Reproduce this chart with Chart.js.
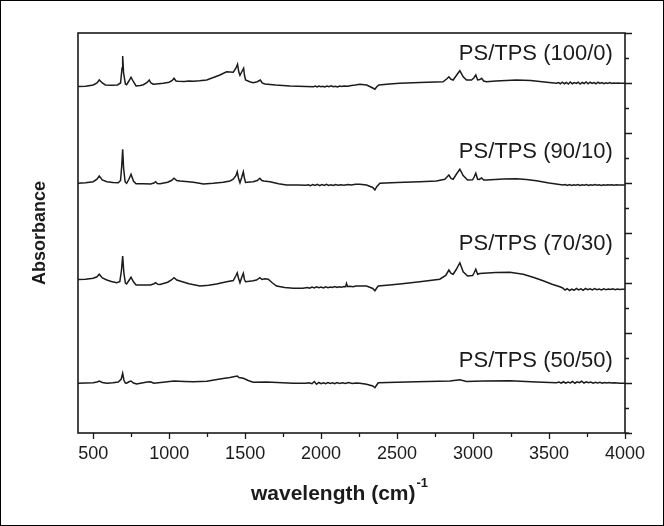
<!DOCTYPE html>
<html>
<head>
<meta charset="utf-8">
<script src="https://cdn.jsdelivr.net/npm/chart.js@4.4.1/dist/chart.umd.min.js"></script>
<style>
  html, body { margin: 0; padding: 0; background: #fff; }
  #wrap { width: 664px; height: 526px; position: relative; }
</style>
</head>
<body>
<div id="wrap"><canvas id="ftir"></canvas></div>
<script>
// FTIR spectra, stacked with vertical offsets (arbitrary absorbance units)
const seriesNames = ['PS/TPS (100/0)', 'PS/TPS (90/10)', 'PS/TPS (70/30)', 'PS/TPS (50/50)'];
const xTicks = [500, 1000, 1500, 2000, 2500, 3000, 3500, 4000];

const wn100 = [400, 450, 500, 525, 540, 560, 580, 620, 660, 680, 690, 694, 700, 712, 720, 735, 749, 765, 782, 810,
  830, 855, 869, 880, 895, 930, 961, 1000, 1020, 1032, 1045, 1060, 1100, 1130, 1159, 1200, 1247, 1300, 1334, 1378,
  1422, 1440, 1450, 1458, 1466, 1478, 1490, 1496, 1503, 1530, 1553, 1580, 1600, 1612, 1630, 1700, 1795, 1900, 1950, 1962,
  1974, 1986, 1998, 2010, 2024, 2038, 2052, 2066, 2080, 2094, 2108, 2122, 2136, 2150, 2175, 2200, 2225, 2255, 2300, 2340,
  2354, 2366, 2380, 2450, 2518, 2650, 2750, 2803, 2830, 2841, 2855, 2869, 2890, 2913, 2935, 2957, 2990, 3005, 3018, 3030,
  3045, 3056, 3070, 3089, 3150, 3286, 3380, 3439, 3500, 3549, 3562, 3575, 3588, 3601, 3614, 3627, 3640, 3653, 3666, 3679,
  3692, 3705, 3718, 3731, 3744, 3757, 3770, 3783, 3796, 3809, 3822, 3835, 3848, 3861, 3874, 3887, 3900, 3913, 3926, 3940,
  3955, 3970, 3985, 4000];
const ab100 = [13.86, 13.87, 13.92, 14.0, 14.12, 14.0, 13.92, 13.91, 13.92, 14.0, 14.6, 15.08, 14.4, 13.96, 13.93, 14.08, 14.23, 14.05, 13.88, 13.9,
  13.93, 14.02, 14.12, 14.0, 13.95, 13.97, 13.99, 14.03, 14.1, 14.19, 14.08, 14.07, 14.06, 14.08, 14.07, 14.09, 14.12, 14.24, 14.32, 14.45,
  14.43, 14.6, 14.75, 14.45, 14.31, 14.45, 14.59, 14.3, 14.12, 14.05, 14.01, 14.05, 14.12, 14.0, 13.96, 13.92, 13.88, 13.86, 13.85, 13.88,
  13.84, 13.88, 13.85, 13.87, 13.84, 13.88, 13.85, 13.89, 13.85, 13.87, 13.84, 13.88, 13.86, 13.88, 13.87, 13.9, 13.92, 13.95, 13.92, 13.8,
  13.75, 13.85, 13.92, 13.96, 13.99, 14.02, 14.04, 14.05, 14.18, 14.25, 14.15, 14.12, 14.3, 14.49, 14.25, 14.12, 14.12, 14.2, 14.32, 14.12,
  14.14, 14.19, 14.08, 14.05, 14.08, 14.12, 14.1, 14.06, 14.02, 13.99, 14.02, 13.97, 14.03, 13.97, 14.02, 13.96, 14.04, 13.97, 14.02, 13.98,
  14.03, 13.96, 14.02, 13.98, 14.04, 13.97, 14.03, 13.98, 14.02, 13.97, 14.03, 13.98, 14.02, 13.97, 14.01, 13.98, 14.02, 13.98, 14.0, 13.99,
  14.0, 13.99, 13.99, 13.99];

const wn90 = [400, 450, 500, 525, 540, 560, 590, 630, 665, 680, 688, 694, 700, 710, 720, 735, 749, 765, 782, 830,
  878, 900, 911, 922, 940, 990, 1015, 1032, 1050, 1071, 1110, 1159, 1190, 1225, 1290, 1356, 1400, 1422, 1440, 1448,
  1456, 1466, 1476, 1488, 1495, 1503, 1530, 1553, 1580, 1597, 1610, 1623, 1663, 1720, 1773, 1850, 1900, 1915, 1930, 1945,
  1960, 1975, 1990, 2005, 2020, 2035, 2050, 2065, 2080, 2095, 2110, 2130, 2150, 2175, 2200, 2225, 2255, 2299, 2340, 2354,
  2366, 2387, 2500, 2650, 2759, 2814, 2830, 2841, 2855, 2869, 2890, 2913, 2935, 2964, 2997, 3008, 3018, 3030, 3040, 3056,
  3070, 3089, 3200, 3286, 3350, 3417, 3500, 3592, 3606, 3620, 3634, 3648, 3662, 3676, 3690, 3704, 3718, 3732, 3746, 3760,
  3774, 3788, 3802, 3816, 3830, 3844, 3858, 3872, 3886, 3900, 3914, 3928, 3942, 3956, 3970, 4000];
const ab90 = [9.99, 10.01, 10.05, 10.15, 10.28, 10.12, 10.05, 10.02, 10.01, 10.1, 10.7, 11.35, 10.6, 10.05, 9.99, 10.15, 10.35, 10.08, 9.97, 9.97,
  9.96, 10.0, 10.05, 9.98, 9.97, 10.03, 10.1, 10.19, 10.1, 10.08, 10.06, 10.03, 10.0, 9.96, 9.99, 10.03, 10.08, 10.15, 10.3, 10.45,
  10.2, 10.01, 10.2, 10.45, 10.2, 10.02, 10.04, 10.05, 10.1, 10.19, 10.1, 10.08, 10.05, 9.97, 9.92, 9.92, 9.91, 9.93, 9.89, 9.94,
  9.9, 9.95, 9.89, 9.94, 9.9, 9.95, 9.9, 9.93, 9.9, 9.94, 9.91, 9.93, 9.91, 9.94, 9.92, 9.95, 9.95, 9.92, 9.82, 9.72,
  9.85, 9.99, 10.02, 10.05, 10.08, 10.15, 10.25, 10.32, 10.18, 10.15, 10.35, 10.55, 10.3, 10.12, 10.13, 10.25, 10.39, 10.15, 10.14, 10.2,
  10.12, 10.12, 10.16, 10.17, 10.14, 10.09, 10.0, 9.92, 9.94, 9.9, 9.94, 9.9, 9.93, 9.91, 9.94, 9.9, 9.93, 9.91, 9.94, 9.9,
  9.93, 9.91, 9.94, 9.91, 9.93, 9.9, 9.93, 9.91, 9.93, 9.92, 9.93, 9.91, 9.93, 9.92, 9.92, 9.92];

const wn70 = [400, 450, 500, 525, 540, 560, 590, 620, 654, 675, 686, 694, 702, 712, 720, 735, 749, 765, 782, 830,
  878, 900, 911, 925, 940, 990, 1015, 1032, 1050, 1071, 1130, 1203, 1260, 1312, 1378, 1422, 1440, 1448, 1456, 1466,
  1476, 1488, 1495, 1503, 1530, 1553, 1575, 1597, 1610, 1630, 1652, 1680, 1707, 1760, 1817, 1880, 1910, 1925, 1940, 1955,
  1970, 1985, 2000, 2015, 2030, 2045, 2060, 2075, 2090, 2105, 2120, 2135, 2150, 2162, 2167, 2174, 2190, 2210, 2230, 2255,
  2299, 2340, 2354, 2366, 2376, 2450, 2518, 2650, 2781, 2820, 2841, 2855, 2869, 2890, 2913, 2935, 2964, 2997, 3008, 3018,
  3030, 3045, 3067, 3150, 3242, 3330, 3400, 3461, 3520, 3571, 3590, 3605, 3620, 3635, 3650, 3665, 3680, 3695, 3710, 3725,
  3740, 3755, 3770, 3785, 3800, 3815, 3830, 3845, 3860, 3875, 3890, 3905, 3920, 3935, 3950, 3965, 3980, 4000];
const ab70 = [6.14, 6.15, 6.19, 6.25, 6.35, 6.2, 6.12, 6.06, 6.01, 6.05, 6.5, 7.08, 6.4, 6.0, 5.96, 6.1, 6.23, 6.05, 5.92, 5.92,
  5.92, 5.97, 6.01, 5.95, 5.94, 6.03, 6.12, 6.21, 6.12, 6.08, 5.97, 5.88, 5.91, 5.96, 6.05, 6.1, 6.3, 6.41, 6.2, 6.01,
  6.2, 6.39, 6.15, 6.05, 6.07, 6.09, 6.12, 6.21, 6.14, 6.17, 6.15, 6.0, 5.88, 5.82, 5.79, 5.79, 5.82, 5.79, 5.84, 5.8,
  5.85, 5.81, 5.84, 5.8, 5.85, 5.81, 5.84, 5.82, 5.86, 5.82, 5.85, 5.83, 5.86, 5.85, 5.98, 5.86, 5.87, 5.85, 5.88, 5.88,
  5.88, 5.78, 5.69, 5.8, 5.88, 5.92, 5.96, 6.05, 6.15, 6.3, 6.52, 6.38, 6.35, 6.55, 6.81, 6.45, 6.28, 6.3, 6.42, 6.55,
  6.35, 6.38, 6.39, 6.42, 6.43, 6.35, 6.22, 6.09, 5.95, 5.85, 5.8, 5.72, 5.77, 5.7, 5.76, 5.71, 5.78, 5.72, 5.77, 5.71,
  5.78, 5.73, 5.77, 5.72, 5.78, 5.73, 5.76, 5.72, 5.77, 5.73, 5.76, 5.74, 5.77, 5.73, 5.76, 5.74, 5.75, 5.75];

const wn50 = [400, 450, 500, 525, 540, 560, 590, 630, 665, 684, 694, 702, 712, 720, 735, 749, 765, 786, 820, 855,
  878, 899, 960, 1032, 1100, 1159, 1247, 1334, 1400, 1448, 1460, 1488, 1520, 1553, 1641, 1817, 1900, 1920, 1940, 1955,
  1970, 1985, 2000, 2015, 2030, 2045, 2060, 2075, 2090, 2105, 2120, 2140, 2160, 2180, 2205, 2230, 2255, 2299, 2340, 2354,
  2366, 2376, 2500, 2628, 2848, 2913, 2957, 3067, 3242, 3417, 3549, 3565, 3580, 3595, 3610, 3625, 3640, 3655, 3670, 3685,
  3700, 3715, 3730, 3745, 3760, 3775, 3790, 3805, 3820, 3835, 3850, 3865, 3880, 3895, 3910, 3930, 3950, 3966, 4000];
const ab50 = [1.99, 2.0, 2.01, 2.04, 2.08, 2.02, 1.99, 2.01, 2.04, 2.15, 2.39, 2.12, 2.0, 1.99, 2.05, 2.08, 2.0, 1.96, 2.0, 2.04,
  2.05, 1.99, 2.03, 2.08, 2.06, 2.05, 2.07, 2.16, 2.22, 2.28, 2.22, 2.19, 2.1, 2.03, 2.04, 1.99, 1.99, 2.01, 1.97, 2.06,
  1.95, 2.02, 1.97, 2.01, 1.97, 2.02, 1.98, 2.01, 1.97, 2.02, 1.98, 2.01, 1.98, 2.02, 1.98, 2.0, 1.99, 1.95, 1.88, 1.81,
  1.92, 2.01, 2.03, 2.05, 2.08, 2.13, 2.06, 2.08, 2.09, 2.04, 2.01, 2.04, 1.99, 2.05, 1.99, 2.04, 2.0, 2.06, 1.99, 2.05,
  2.01, 2.07, 2.0, 2.05, 2.01, 2.04, 1.99, 2.03, 2.0, 2.03, 1.99, 2.02, 2.0, 2.02, 2.0, 2.01, 2.0, 1.99, 1.99];

const wnAll = [wn100, wn90, wn70, wn50];
const abAll = [ab100, ab90, ab70, ab50];

// text labels next to each trace: [x value the text ends at, y value of its centre]
const labelAnchors = [[3920, 15.16], [3920, 11.24], [3920, 7.56], [3920, 2.88]];

const toPoints = (xs, ys) => xs.map((x, i) => ({ x: x, y: ys[i] }));

const INK = '#1b1b1b';
const FONT = 'Liberation Sans, Arial, Helvetica, sans-serif';

// frame, outer ticks, series labels and the x title with a superscript
const framePlugin = {
  id: 'frame',
  afterDraw(chart) {
    const { ctx, chartArea: a, scales } = chart;
    const xs = scales.x, ys = scales.y;
    ctx.save();
    ctx.strokeStyle = INK;
    ctx.lineWidth = 1.6;
    ctx.strokeRect(a.left, a.top, a.right - a.left, a.bottom - a.top);

    // bottom ticks (major 500, minor 250), pointing down
    ctx.lineWidth = 1.3;
    ctx.beginPath();
    for (let v = 500; v <= 4000; v += 250) {
      const px = Math.round(xs.getPixelForValue(v)) + 0.5;
      const len = v % 500 === 0 ? 6 : 4;
      ctx.moveTo(px, a.bottom);
      ctx.lineTo(px, a.bottom + len);
    }
    ctx.moveTo(a.right, a.bottom);
    ctx.lineTo(a.right + 4, a.bottom);
    // right ticks, pointing right
    for (let v = 0; v <= 16; v++) {
      const py = Math.round(ys.getPixelForValue(v)) + 0.5;
      const len = v % 2 === 0 ? 7 : 4;
      ctx.moveTo(a.right, py);
      ctx.lineTo(a.right + len, py);
    }
    ctx.stroke();

    // series labels
    ctx.fillStyle = INK;
    ctx.font = '22px ' + FONT;
    ctx.textAlign = 'right';
    ctx.textBaseline = 'middle';
    seriesNames.forEach((name, i) => {
      const [lx, ly] = labelAnchors[i];
      ctx.fillText(name, xs.getPixelForValue(lx), ys.getPixelForValue(ly));
    });

    // x axis title
    const main = 'wavelength (cm)';
    ctx.font = 'bold 21px ' + FONT;
    const w = ctx.measureText(main).width;
    ctx.font = 'bold 13px ' + FONT;
    const ws = ctx.measureText('-1').width;
    const cx = 339;
    const x0 = cx - (w + ws) / 2;
    ctx.textAlign = 'left';
    ctx.textBaseline = 'alphabetic';
    ctx.font = 'bold 21px ' + FONT;
    ctx.fillText(main, x0, 500);
    ctx.font = 'bold 13px ' + FONT;
    ctx.fillText('-1', x0 + w + 1, 487);

    // outer border of the figure
    ctx.lineWidth = 1;
    ctx.strokeStyle = '#000';
    ctx.strokeRect(0.5, 0.5, chart.width - 1, chart.height - 1);
    ctx.restore();
  }
};

new Chart(document.getElementById('ftir'), {
  type: 'line',
  data: {
    datasets: seriesNames.map((name, i) => ({
      label: name,
      data: toPoints(wnAll[i], abAll[i]),
      borderColor: INK,
      borderWidth: 1.5,
      pointRadius: 0,
      tension: 0,
      fill: false
    }))
  },
  options: {
    responsive: true,
    maintainAspectRatio: false,
    animation: false,
    events: [],
    layout: { padding: { top: 33, right: 39, left: 0, bottom: 0 } },
    plugins: {
      legend: { display: false },
      tooltip: { enabled: false }
    },
    scales: {
      x: {
        type: 'linear',
        min: 400,
        max: 4000,
        afterBuildTicks: s => { s.ticks = xTicks.map(v => ({ value: v })); },
        afterFit: s => { s.height = 93; },
        grid: { display: false, drawTicks: false },
        border: { display: false },
        ticks: {
          color: INK,
          padding: 10,
          maxRotation: 0,
          autoSkip: false,
          callback: v => String(v),
          font: { family: FONT, size: 18 }
        }
      },
      y: {
        min: 0,
        max: 16,
        afterFit: s => { s.width = 78; },
        grid: { display: false, drawTicks: false },
        border: { display: false },
        ticks: { display: false },
        title: {
          display: true,
          text: 'Absorbance',
          color: INK,
          padding: { top: 29, bottom: 0 },
          font: { family: FONT, size: 18, weight: 'bold' }
        }
      }
    }
  },
  plugins: [framePlugin]
});
</script>
</body>
</html>
